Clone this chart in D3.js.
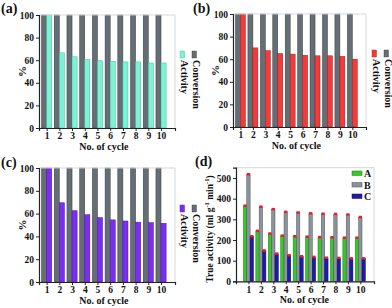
<!DOCTYPE html>
<html>
<head>
<meta charset="utf-8">
<script src="https://cdn.jsdelivr.net/npm/d3@7"></script>
<style>
  body { margin: 0; background: #fff; }
  text { font-family: "Liberation Serif", "Times New Roman", serif; font-weight: bold; fill: #111; }
</style>
</head>
<body>
<div id="chart"></div>
<script>
var width = 392,
    height = 308;

// data
var cycles = [1, 2, 3, 4, 5, 6, 7, 8, 9, 10];
var conversion = [100, 100, 100, 100, 100, 100, 100, 100, 100, 100];
var activityA = [100, 66.5, 63, 60.5, 59.5, 59, 58.5, 58.5, 57.5, 57.5];
var activityB = [100, 70, 67.5, 65, 64.5, 63.5, 63, 63, 62.5, 60];
var activityC = [100, 69.5, 62.5, 59, 56.5, 54.5, 53.5, 52.5, 52, 51.5];
var trueA = [365, 243, 230, 220, 217, 215, 213, 212, 210, 210];
var trueB = [517, 360, 348, 335, 332, 328, 326, 325, 322, 310];
var trueC = [217, 148, 133, 125, 120, 117, 113, 112, 110, 110];
var pctTicks = [0, 20, 40, 60, 80, 100];
var trueTicks = [0, 100, 200, 300, 400, 500];

var svg = d3.select("#chart").append("svg")
    .attr("width", width)
    .attr("height", height);

var grey = "#646e74";

function axes(g, x, y, yTicks) {
  var xr = x.range(), yr = y.range();
  // light frame top/right
  g.append("path")
      .attr("d", "M" + xr[0] + "," + yr[1] + "H" + xr[1] + "V" + yr[0])
      .attr("fill", "none").attr("stroke", "#d4d8da").attr("stroke-width", 1);

  var ya = g.append("g")
      .attr("transform", "translate(" + xr[0] + ",0)")
      .call(d3.axisLeft(y).tickValues(yTicks).tickSize(3).tickPadding(2));
  var xa = g.append("g")
      .attr("transform", "translate(0," + yr[0] + ")")
      .call(d3.axisBottom(x).tickValues(cycles).tickSize(3).tickPadding(1.5));
  [ya, xa].forEach(function(a) {
    a.select(".domain").attr("stroke", "#222").attr("stroke-width", 1.2);
    a.selectAll(".tick line").attr("stroke", "#222");
    a.selectAll("text").attr("font-size", 9.5).attr("font-family", null).attr("fill", null);
  });

  g.append("text")
      .attr("x", (x(1) + x(10)) / 2)
      .attr("y", yr[0] + 22)
      .attr("text-anchor", "middle")
      .attr("font-size", 10)
      .text("No. of cycle");
}

function pctPanel(opts) {
  var g = svg.append("g");
  var x = d3.scaleLinear().domain([0.4, 11.1]).range(opts.xr);
  var y = d3.scaleLinear().domain([0, 100]).range(opts.yr);
  var bw = x(1.4) - x(1);

  g.selectAll(".conv")
      .data(cycles)
    .enter().append("rect")
      .attr("x", function(d) { return x(d) - bw; })
      .attr("y", function(d, i) { return y(conversion[i]); })
      .attr("width", bw)
      .attr("height", function(d, i) { return y(0) - y(conversion[i]); })
      .attr("fill", grey).attr("stroke", "#363c40").attr("stroke-width", 0.5);

  g.selectAll(".act")
      .data(cycles)
    .enter().append("rect")
      .attr("x", function(d) { return x(d); })
      .attr("y", function(d, i) { return y(opts.values[i]); })
      .attr("width", bw)
      .attr("height", function(d, i) { return y(0) - y(opts.values[i]); })
      .attr("fill", opts.color).attr("stroke", opts.edge).attr("stroke-width", 0.5);

  axes(g, x, y, pctTicks);

  g.append("text")
      .attr("transform", "translate(" + opts.pctX + "," + ((opts.yr[0] + opts.yr[1]) / 2) + ") rotate(-90)")
      .attr("text-anchor", "middle")
      .attr("font-size", 11)
      .text("%");

  g.append("text")
      .attr("x", opts.tag[0]).attr("y", opts.tag[1])
      .attr("font-size", 14)
      .text(opts.label);

  // rotated legend
  var lg = g.append("g").attr("transform", "translate(" + opts.legend[0] + "," + opts.legend[1] + ")");
  var items = [{name: "Conversion", color: grey, edge: "#363c40", dx: 12},
               {name: "Activity", color: opts.color, edge: opts.edge, dx: 0}];
  items.forEach(function(it) {
    lg.append("rect")
        .attr("x", it.dx).attr("y", 0)
        .attr("width", 4.5).attr("height", 7)
        .attr("fill", it.color).attr("stroke", it.edge).attr("stroke-width", 0.4);
    lg.append("text")
        .attr("transform", "translate(" + (it.dx + 0.5) + ",9) rotate(90)")
        .attr("font-size", 10)
        .text(it.name);
  });
}

pctPanel({label: "(a)", tag: [1, 13], xr: [39, 175], yr: [128, 15], values: activityA,
  color: "#7ff2d6", edge: "#3fb89a", pctX: 26, legend: [180, 51]});
pctPanel({label: "(b)", tag: [193, 13], xr: [233, 366], yr: [127, 14], values: activityB,
  color: "#f43b3b", edge: "#a01818", pctX: 219, legend: [372, 50]});
pctPanel({label: "(c)", tag: [1, 167], xr: [39, 175], yr: [282, 168], values: activityC,
  color: "#7a2ef0", edge: "#4a10a8", pctX: 26, legend: [180, 205]});

// panel (d)
(function() {
  var g = svg.append("g");
  var x = d3.scaleLinear().domain([0, 11.1]).range([236, 374]);
  var y = d3.scaleLinear().domain([0, 550]).range([281.3, 167.7]);
  var bw = x(1.27) - x(1);
  var series = [
    {name: "A", values: trueA, color: "#35c829", edge: "#1d7a14", off: -1.5},
    {name: "B", values: trueB, color: "#8b949a", edge: "#4a5257", off: -0.5},
    {name: "C", values: trueC, color: "#1c1ca6", edge: "#0c0c60", off: 0.5}
  ];

  series.forEach(function(s) {
    g.selectAll(null)
        .data(cycles)
      .enter().append("rect")
        .attr("x", function(d) { return x(d) + s.off * bw; })
        .attr("y", function(d, i) { return y(s.values[i]); })
        .attr("width", bw)
        .attr("height", function(d, i) { return y(0) - y(s.values[i]); })
        .attr("fill", s.color).attr("stroke", s.edge).attr("stroke-width", 0.5);
    // red caps on top of bars
    g.selectAll(null)
        .data(cycles)
      .enter().append("rect")
        .attr("x", function(d) { return x(d) + s.off * bw; })
        .attr("y", function(d, i) { return y(s.values[i]) - 1.5; })
        .attr("width", bw)
        .attr("height", 2.5)
        .attr("fill", "#e8202a");
  });

  axes(g, x, y, trueTicks);

  var yl = g.append("text")
      .attr("transform", "translate(213,229) rotate(-90)")
      .attr("text-anchor", "middle")
      .attr("font-size", 9.5);
  yl.append("tspan").text("True activity (ml g");
  yl.append("tspan").attr("dy", -4).attr("font-size", 6.5).text("-1");
  yl.append("tspan").attr("dy", 4).text(" min");
  yl.append("tspan").attr("dy", -4).attr("font-size", 6.5).text("-1");
  yl.append("tspan").attr("dy", 4).text(")");

  g.append("text")
      .attr("x", 195).attr("y", 166)
      .attr("font-size", 14)
      .text("(d)");

  series.forEach(function(s, i) {
    g.append("rect")
        .attr("x", 352).attr("y", 171 + i * 11.5)
        .attr("width", 10).attr("height", 4.5)
        .attr("fill", s.color).attr("stroke", s.edge).attr("stroke-width", 0.5);
    g.append("text")
        .attr("x", 364).attr("y", 177 + i * 11.5)
        .attr("font-size", 10)
        .text(s.name);
  });
})();
</script>
</body>
</html>
